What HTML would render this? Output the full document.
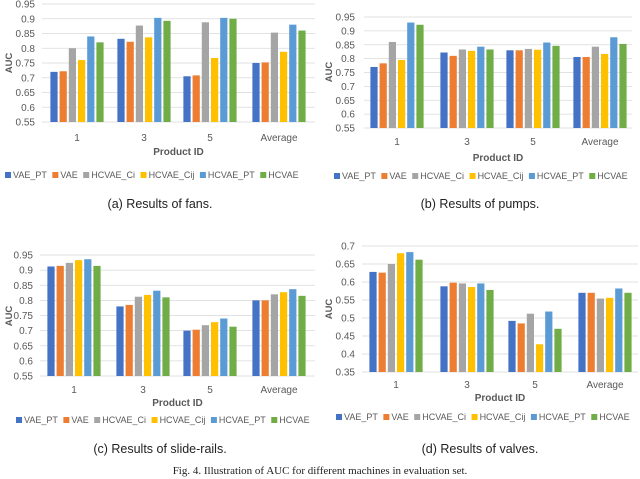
<!DOCTYPE html>
<html><head><meta charset="utf-8"><style>
body{margin:0;background:#fff}
svg{display:block}
</style></head><body>
<svg id="fig" width="640" height="479" viewBox="0 0 640 479" xmlns="http://www.w3.org/2000/svg" font-family="Liberation Sans, sans-serif"></svg>
<script>
const categories = ["1","3","5","Average"];
const seriesNames = ["VAE_PT","VAE","HCVAE_Ci","HCVAE_Cij","HCVAE_PT","HCVAE"];
const colors = ["#4472c4","#ed7d31","#a5a5a5","#ffc000","#5b9bd5","#70ad47"];
const ticksA = [0.55,0.6,0.65,0.7,0.75,0.8,0.85,0.9,0.95];
const ticksD = [0.35,0.4,0.45,0.5,0.55,0.6,0.65,0.7];
const fansVAE_PT=[0.72,0.832,0.705,0.75], fansVAE=[0.722,0.822,0.708,0.752], fansCi=[0.80,0.877,0.888,0.853], fansCij=[0.76,0.837,0.767,0.788], fansPT=[0.84,0.903,0.903,0.88], fansHC=[0.82,0.893,0.90,0.86];
const pumpsVAE_PT=[0.77,0.822,0.83,0.806], pumpsVAE=[0.783,0.81,0.83,0.806], pumpsCi=[0.86,0.833,0.835,0.843], pumpsCij=[0.795,0.828,0.832,0.817], pumpsPT=[0.93,0.843,0.858,0.877], pumpsHC=[0.922,0.833,0.846,0.853];
const railsVAE_PT=[0.912,0.78,0.70,0.80], railsVAE=[0.914,0.785,0.703,0.80], railsCi=[0.924,0.812,0.718,0.82], railsCij=[0.933,0.818,0.728,0.827], railsPT=[0.936,0.832,0.74,0.837], railsHC=[0.914,0.81,0.713,0.815];
const valvesVAE_PT=[0.628,0.588,0.492,0.57], valvesVAE=[0.626,0.598,0.485,0.57], valvesCi=[0.65,0.596,0.512,0.554], valvesCij=[0.68,0.586,0.427,0.556], valvesPT=[0.683,0.596,0.518,0.582], valvesHC=[0.662,0.578,0.47,0.57];

const NS="http://www.w3.org/2000/svg";
const svg=document.getElementById('fig');
function mk(tag,attrs,parent){const e=document.createElementNS(NS,tag);for(const k in attrs)e.setAttribute(k,attrs[k]);(parent||svg).appendChild(e);return e;}
function txt(s,attrs,parent){const e=mk('text',attrs,parent);e.textContent=s;return e;}

const panels=[
 {id:'fans',cap:'(a) Results of fans.',series:[fansVAE_PT,fansVAE,fansCi,fansCij,fansPT,fansHC],ticks:ticksA,min:0.55,max:0.95,yMin:122,yMax:4,xl:42,xr:315,centers:[77,144,210,279],tickY:141,titleY:155,legY:178,legX:5,capY:208,capX:160,yLabX:35,auc:[9,63]},
 {id:'pumps',cap:'(b) Results of pumps.',series:[pumpsVAE_PT,pumpsVAE,pumpsCi,pumpsCij,pumpsPT,pumpsHC],ticks:ticksA,min:0.55,max:0.95,yMin:128,yMax:17,xl:364,xr:632,centers:[397,467,533,600],tickY:145,titleY:161,legY:179,legX:334,capY:208,capX:480,yLabX:355,auc:[329,72]},
 {id:'slide-rails',cap:'(c) Results of slide-rails.',series:[railsVAE_PT,railsVAE,railsCi,railsCij,railsPT,railsHC],ticks:ticksA,min:0.55,max:0.95,yMin:376,yMax:255,xl:40,xr:315,centers:[74,143,210,279],tickY:393,titleY:406,legY:423,legX:16,capY:453,capX:160,yLabX:33,auc:[9,316]},
 {id:'valves',cap:'(d) Results of valves.',series:[valvesVAE_PT,valvesVAE,valvesCi,valvesCij,valvesPT,valvesHC],ticks:ticksD,min:0.35,max:0.7,yMin:372,yMax:246,xl:362,xr:638,centers:[396,467,535,605],tickY:388,titleY:401,legY:420,legX:336,capY:453,capX:480,yLabX:355,auc:[329,309]}
];
panels.forEach(p=>{
  const g=mk('g',{});
  
  
  const y=v=>p.yMin-(v-p.min)/(p.max-p.min)*(p.yMin-p.yMax);
  p.ticks.forEach(t=>{
    const ty=y(t);
    if(t>p.min){const l=mk('line',{x1:p.xl,x2:p.xr,y1:ty,y2:ty,stroke:'#d9d9d9','stroke-width':0.8},g);
      }
    const tl=txt(String(t),{x:p.yLabX,y:ty+3.5,'font-size':10,fill:'#595959','text-anchor':'end'},g);
    
  });
  const base=mk('line',{x1:p.xl,x2:p.xr,y1:p.yMin,y2:p.yMin,stroke:'#d9d9d9','stroke-width':0.8},g);
  
  const bw=7.2, step=9.2;
  categories.forEach((c,ci)=>{
    p.series.forEach((arr,si)=>{
      const x=p.centers[ci]+(si-2.5)*step-bw/2;
      const top=y(arr[ci]);
      const r=mk('rect',{x:x,y:top,width:bw,height:p.yMin-top,fill:colors[si]},g);
      
      
    });
    const cl=txt(c,{x:p.centers[ci],y:p.tickY,'font-size':10,fill:'#595959','text-anchor':'middle'},g);
    
  });
  const xt=txt('Product ID',{x:(p.xl+p.xr)/2,y:p.titleY,'font-size':10,'font-weight':'bold',fill:'#595959','text-anchor':'middle'},g);
  
  const yt=txt('AUC',{x:0,y:0,'font-size':9.5,'font-weight':'bold',fill:'#595959','text-anchor':'middle',transform:'translate('+(p.auc[0]+3)+','+p.auc[1]+') rotate(-90)'},g);
  
  let lx=p.legX;
  seriesNames.forEach((n,si)=>{
    const it=mk('g',{},g);
    
    
    mk('rect',{x:lx,y:p.legY-6,width:6,height:6,fill:colors[si]},it);
    const t=txt(n,{x:lx+8,y:p.legY,'font-size':9,fill:'#595959'},it);
    lx+=8+t.getComputedTextLength()+5.5;
  });
  const cap=txt(p.cap,{x:p.capX,y:p.capY,'font-size':12.5,fill:'#222','text-anchor':'middle'});
  
});
const fc=txt('Fig. 4.  Illustration of AUC for different machines in evaluation set.',{x:320,y:474,'font-size':11,fill:'#222','text-anchor':'middle','font-family':'Liberation Serif, serif'});

</script>
</body></html>
